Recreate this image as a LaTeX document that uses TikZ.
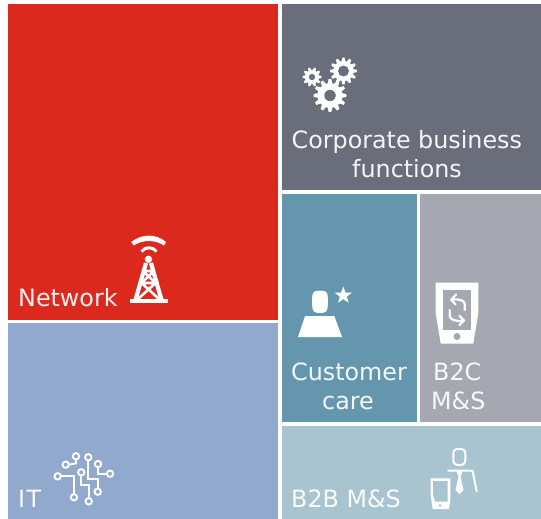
\documentclass[tikz,border=0pt]{standalone}
\usepackage{fontspec}
\setmainfont{DejaVu Sans}
\definecolor{cnet}{HTML}{DC291E}
\definecolor{ccorp}{HTML}{6A6E7B}
\definecolor{ccare}{HTML}{6497AD}
\definecolor{cbtc}{HTML}{A5A7B1}
\definecolor{cit}{HTML}{91A9CD}
\definecolor{cbtb}{HTML}{A7C4D0}
\newcommand{\gearicon}[6]{%
  \pgfmathsetmacro{\gstep}{360/#6}%
  \fill[white,even odd rule,shift={(#1,#2)}] (0:#3)
    \foreach \i in {1,...,#6}{
      -- ({(\i-1)*\gstep+0.16*\gstep}:#3)
      -- ({(\i-1)*\gstep+0.36*\gstep}:#4)
      -- ({(\i-1)*\gstep+0.64*\gstep}:#4)
      -- ({(\i-1)*\gstep+0.84*\gstep}:#3)
      -- ({\i*\gstep}:#3)
    } -- cycle (0,0) circle (#5);}
\tikzset{
  label/.style={anchor=base west,inner sep=0pt,text=white,text opacity=0.93,font=\fontsize{23.8}{27}\selectfont},
  pcb/.style={draw=white,line width=1.9pt,fill=none},
  arrowline/.style={draw=white,line width=2.2pt,line cap=round,line join=round},
}
\begin{document}
\begin{tikzpicture}[x=1pt,y=-1pt]
\useasboundingbox (0,0) rectangle (541,519);
\fill[white] (0,0) rectangle (541,519);
\fill[cnet]  (8,4) rectangle (278,320);
\fill[cit]   (8,323) rectangle (278,519);
\fill[ccorp] (282,4) rectangle (541,190);
\fill[ccare] (282,194) rectangle (417,422);
\fill[cbtc]  (420,194) rectangle (541,422);
\fill[cbtb]  (282,426) rectangle (541,519);
% labels
\node[label] (network) at (18,306) {Network};
\node[label] (it) at (18,507) {I\kern1.5pt T};
\node[label] (corp1) at (291.5,148) {Corporate business};
\node[label] (corp2) at (352,177) {functions};
\node[label] (care1) at (291,380) {Customer};
\node[label] (care2) at (322,409) {care};
\node[label] (btc1) at (433,380) {B2C};
\node[label] (btc2) at (431,409) {M\&S};
\node[label] (btb) at (291,507) {B2B M\&S};
% tower
\fill[white] (131.3,242) .. controls (142,233.5) and (156,233.5) .. (166,242) -- (164,245.5) .. controls (155,239.5) and (143,239.5) .. (133.5,245.5) -- cycle;
\draw[white,line width=3pt] (141.5,251.5) .. controls (145.5,246.5) and (152.5,246.5) .. (156.5,251.5);
\fill[white] (148.5,259.3) circle (3.7);
\draw[white,line width=4.2pt] (146,263) -- (135.5,300) (151,263) -- (161.5,300);
\draw[white,line width=4pt] (130,300.5) -- (167.5,300.5);
\draw[white,line width=2.6pt] (143,271) -- (154,271) (141.5,283) -- (155.5,283) -- (138,299) (141.5,283) -- (159,299) (143,271) -- (155.5,283) (154,271) -- (141.5,283);
% gears
\gearicon{312}{77}{9.5}{7}{3.3}{10}
\gearicon{343.5}{71}{13.5}{10}{5.6}{12}
\gearicon{330}{95.5}{16.5}{12.3}{5.8}{12}
% person with star
\fill[white] (320,290.7) .. controls (325,290.7) and (327.8,291) .. (327.8,298) -- (327.8,305) .. controls (327.8,312) and (325,313) .. (320,313) .. controls (315,313) and (312.2,312) .. (312.2,305) -- (312.2,298) .. controls (312.2,291) and (315,290.7) .. (320,290.7) -- cycle;
\fill[white] (305,316) -- (334.3,316) -- (342,337) -- (298,337) -- cycle;
\fill[white,shift={(343.3,295.5)}] (-90:9) \foreach \a in {-54,-18,...,234}{ -- (\a:{mod(\a+90,72)==0 ? 9 : 3.6}) } -- cycle;
% phone with arrows
\fill[white] (435.7,282.5) -- (478.3,282.5) -- (478.3,313) -- (473.3,343.5) -- (440.7,343.5) -- (435.7,313) -- cycle;
\fill[cbtc] (443,289.7) rectangle (471,329.7);
\fill[cbtc] (457,336.5) circle (3.5);
\draw[arrowline] (464.7,310) -- (464.7,304) .. controls (464.7,300.5) and (459,298.5) .. (451.5,299.7);
\draw[arrowline] (456,294.5) -- (451.3,299.7) -- (455.5,304.5);
\draw[arrowline] (449.7,310) -- (449.7,316) .. controls (449.7,319.5) and (456,322) .. (463.7,320.5);
\draw[arrowline] (459.3,315.7) -- (464,320.5) -- (459.3,325);
% b2b
\draw[white,line width=2pt] (459.3,449) .. controls (463,449) and (465.3,449.5) .. (465.3,454) -- (465.3,459.5) .. controls (465.3,464) and (463,465) .. (459.3,465) .. controls (455.6,465) and (453.3,464) .. (453.3,459.5) -- (453.3,454) .. controls (453.3,449.5) and (455.6,449) .. (459.3,449) -- cycle;
\draw[white,line width=2pt] (447.5,470.7) -- (472.5,470.7) -- (476.8,491.7);
\fill[white] (456.5,471) -- (462.5,471) -- (460.5,477) -- (463.5,490) -- (459.5,494) -- (455.5,490) -- (458.5,477) -- cycle;
\fill[white] (430.5,478.3) -- (450.3,478.3) -- (450.3,500) -- (449,509) -- (432.7,509) -- (430.5,495) -- cycle;
\fill[cbtb] (433.2,481) -- (447.7,481) -- (447.7,501.5) -- (435,501.5) -- (433.2,495) -- cycle;
\fill[cbtb] (440,505.6) circle (1.4);
% IT circuit
\foreach \cx/\cy in {76/456.3,65.7/464.7,88.3/457.3,98/464,110/473.7,57.7/476.3,81.3/472.3,97.7/491.7,74/497.3,88.7/501.3}
  \draw[pcb] (\cx,\cy) circle (3.2);
\draw[pcb] (76,459.5) -- (76,463.3) -- (68.9,464.7);
\draw[pcb] (88.3,460.5) -- (88.3,479) -- (97.7,479) -- (97.7,488.5);
\draw[pcb] (98,467.2) -- (98,473.7) -- (106.8,473.7);
\draw[pcb] (60.9,476.3) -- (74,476.3) -- (74,494.1);
\draw[pcb] (81.3,475.5) -- (81.3,485) -- (88.7,485) -- (88.7,498.1);
\end{tikzpicture}
\end{document}
